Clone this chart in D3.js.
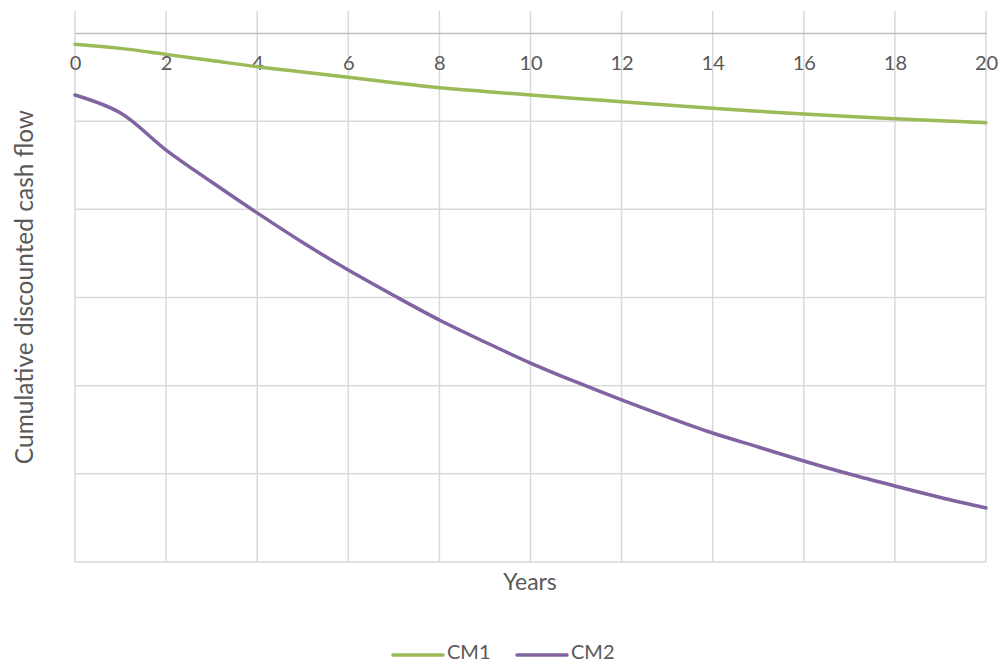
<!DOCTYPE html>
<html>
<head>
<meta charset="utf-8">
<script src="https://cdn.jsdelivr.net/npm/d3@7"></script>
<style>
  html, body { margin: 0; padding: 0; background: #fff; }
  svg text { font-family: Lato, "Open Sans", sans-serif; fill: #595959; }
</style>
</head>
<body>
<svg id="chart" width="1007" height="664"></svg>
<script>
// Years on the horizontal axis
const years = [0,1,2,3,4,5,6,7,8,9,10,11,12,13,14,15,16,17,18,19,20];
const xTicks = [0,2,4,6,8,10,12,14,16,18,20];
// Cumulative discounted cash flow per scenario
const cm1 = [-0.128,-0.174,-0.242,-0.312,-0.382,-0.442,-0.502,-0.563,-0.620,-0.663,-0.703,
             -0.743,-0.779,-0.817,-0.854,-0.887,-0.919,-0.946,-0.972,-0.996,-1.017];
const cm2 = [-0.703,-0.907,-1.327,-1.690,-2.040,-2.376,-2.688,-2.977,-3.255,-3.505,-3.743,
             -3.958,-4.162,-4.355,-4.537,-4.696,-4.854,-5.002,-5.138,-5.268,-5.387];
const yGrid = [-1,-2,-3,-4,-5,-6];
const seriesNames = ["CM1", "CM2"];
const seriesColors = ["#9BBB59", "#8064A2"];

const svg = d3.select("#chart");
const plotLeft = 75, plotRight = 986, plotTop = 11, plotBottom = 562;

const x = d3.scaleLinear().domain([0, 20]).range([plotLeft, plotRight]);
const y = d3.scaleLinear().domain([-6, 0.25]).range([plotBottom, plotTop]);

// vertical gridlines
svg.append("g").selectAll("line").data(xTicks).join("line")
  .attr("x1", d => x(d)).attr("x2", d => x(d))
  .attr("y1", plotTop).attr("y2", plotBottom)
  .attr("stroke", "#d9d9d9").attr("stroke-width", 1.5);

// horizontal gridlines
svg.append("g").selectAll("line").data(yGrid).join("line")
  .attr("x1", plotLeft).attr("x2", plotRight)
  .attr("y1", d => y(d)).attr("y2", d => y(d))
  .attr("stroke", "#d9d9d9").attr("stroke-width", 1.5);

// horizontal axis at zero with labels underneath
const xAxis = d3.axisBottom(x).tickValues(xTicks).tickSize(0).tickPadding(23);
const gx = svg.append("g").attr("transform", `translate(0,${y(0)})`).call(xAxis);
gx.select(".domain").attr("stroke", "#bfbfbf").attr("stroke-width", 1.5);
gx.selectAll("text").style("font-size", "20px").attr("fill", "#595959")
  .style("font-family", "Lato, 'Open Sans', sans-serif");

// series lines
const line = d3.line()
  .x((d, i) => x(years[i]))
  .y(d => y(d))
  .curve(d3.curveCatmullRom.alpha(0.5));

[cm1, cm2].forEach((vals, i) => {
  svg.append("path").datum(vals)
    .attr("d", line)
    .attr("fill", "none")
    .attr("stroke", seriesColors[i])
    .attr("stroke-width", 3.5)
    .attr("stroke-linecap", "round")
    .attr("stroke-linejoin", "round");
});

// axis titles
svg.append("text")
  .attr("x", 530).attr("y", 590)
  .attr("text-anchor", "middle")
  .style("font-size", "23px")
  .text("Years");

svg.append("text")
  .attr("transform", `translate(33,287) rotate(-90)`)
  .attr("text-anchor", "middle")
  .style("font-size", "24.5px")
  .text("Cumulative discounted cash flow");

// legend
const legendItems = [
  { name: seriesNames[0], color: seriesColors[0], x0: 391 },
  { name: seriesNames[1], color: seriesColors[1], x0: 515 }
];
const lg = svg.append("g");
legendItems.forEach(it => {
  lg.append("line")
    .attr("x1", it.x0 + 2).attr("x2", it.x0 + 52)
    .attr("y1", 655).attr("y2", 655)
    .attr("stroke", it.color).attr("stroke-width", 3.5)
    .attr("stroke-linecap", "round");
  lg.append("text")
    .attr("x", it.x0 + 56).attr("y", 659)
    .style("font-size", "20px")
    .text(it.name);
});
</script>
</body>
</html>
